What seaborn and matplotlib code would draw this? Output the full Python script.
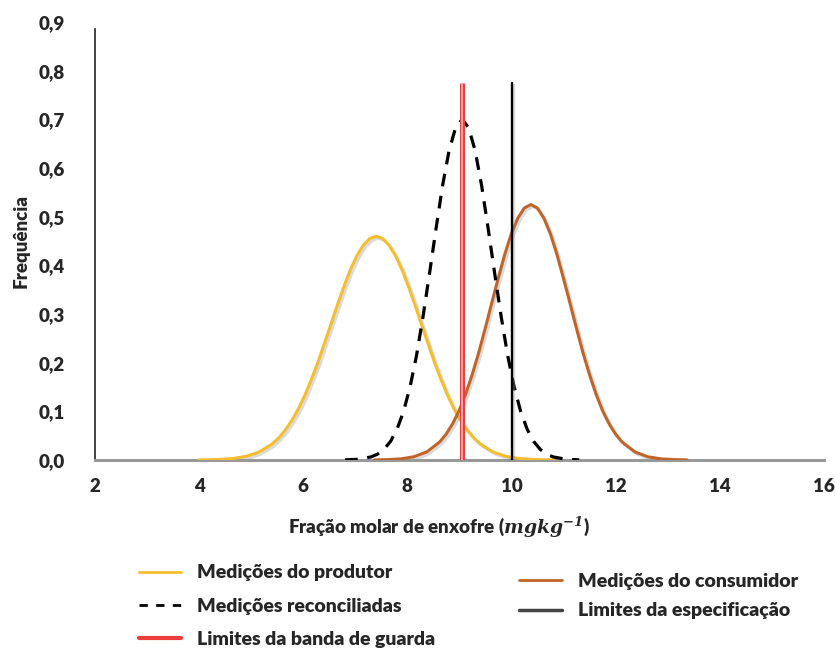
import matplotlib
matplotlib.use("Agg")
import matplotlib.pyplot as plt
import matplotlib.patheffects as pe
from matplotlib.lines import Line2D
import seaborn as sns
import pandas as pd

sns.set_style("white")
plt.rcParams['font.family'] = ['Lato', 'DejaVu Sans']
plt.rcParams['mathtext.fontset'] = 'dejavuserif'

# curves (coarse points + extra points in the bumps)
produtor_x = [4.0, 4.15, 4.4, 4.65, 4.9, 5.15, 5.4, 5.65, 5.9, 6.15, 6.4, 6.65, 6.9, 7.15, 7.4,
              7.65, 7.9, 8.15, 8.4, 8.65, 8.9, 9.15, 9.4, 9.65, 9.9, 10.15, 10.4, 10.65, 10.8]
produtor_y = [0.0002, 0.0004, 0.0012, 0.0031, 0.0074, 0.0162, 0.0328, 0.0609, 0.104, 0.164, 0.238,
              0.317, 0.390, 0.441, 0.460, 0.441, 0.390, 0.317, 0.238, 0.164, 0.104, 0.0609, 0.0328,
              0.0162, 0.0074, 0.0031, 0.0012, 0.0004, 0.0002]
produtor_x2 = [5.525, 5.775, 6.025, 6.275, 6.525, 6.775, 7.025, 7.275,
               7.525, 7.775, 8.025, 8.275, 8.525, 8.775, 9.025, 9.275]
produtor_y2 = [0.0451, 0.0804, 0.132, 0.199, 0.277, 0.355, 0.419, 0.455,
               0.455, 0.419, 0.355, 0.277, 0.199, 0.132, 0.0804, 0.0451]

reconc_x = [6.8, 7.05, 7.3, 7.55, 7.8, 8.05, 8.175, 8.3, 8.425, 8.55, 8.675, 8.8, 8.925, 9.05,
            9.175, 9.3, 9.425, 9.55, 9.675, 9.8, 9.925, 10.05, 10.3, 10.55, 10.8, 11.05, 11.3]
reconc_y = [0.0003, 0.0015, 0.0063, 0.0219, 0.0632, 0.150, 0.215, 0.295, 0.384, 0.476, 0.564, 0.636,
            0.683, 0.700, 0.683, 0.636, 0.564, 0.476, 0.384, 0.295, 0.215, 0.150, 0.0632, 0.0219,
            0.0063, 0.0015, 0.0003]
reconc_x2 = [7.425, 7.675, 7.925, 10.175, 10.425, 10.675]
reconc_y2 = [0.0120, 0.0382, 0.0998, 0.0998, 0.0382, 0.0120]

consum_x = [7.37, 7.62, 7.87, 8.12, 8.37, 8.62, 8.87, 9.12, 9.37, 9.62, 9.87, 10.12, 10.37,
            10.62, 10.87, 11.12, 11.37, 11.62, 11.87, 12.12, 12.37, 12.62, 12.87, 13.12, 13.37]
consum_y = [0.0002, 0.0008, 0.0023, 0.0066, 0.0165, 0.0371, 0.0749, 0.136, 0.221, 0.323, 0.423,
            0.497, 0.525, 0.497, 0.423, 0.323, 0.221, 0.136, 0.0749, 0.0371, 0.0165, 0.0066,
            0.0023, 0.0008, 0.0002]
consum_x2 = [8.745, 8.995, 9.245, 9.495, 9.745, 9.995, 10.245,
             10.495, 10.745, 10.995, 11.245, 11.495, 11.745, 11.995]
consum_y2 = [0.0534, 0.102, 0.176, 0.271, 0.374, 0.465, 0.518,
             0.518, 0.465, 0.374, 0.271, 0.176, 0.102, 0.0534]

banda_x = [9.05, 9.05]
banda_y = [0.0, 0.775]
espec_x = [10.0, 10.0]
espec_y = [0.0, 0.775]

x_ticks = [2, 4, 6, 8, 10, 12, 14, 16]
y_ticks = [0.0, 0.1, 0.2, 0.3, 0.4, 0.5, 0.6, 0.7, 0.8, 0.9]

c_prod = '#F4BE2F'
c_cons = '#C0652A'
c_red = '#EE3B3B'
FS = 14

fig = plt.figure(figsize=(8.35, 6.5), dpi=100)
ax = fig.add_axes([0.1138, 0.2923, 0.873, 0.6737])

shadow = [pe.SimpleLineShadow(offset=(1.5, -1.5), shadow_color='#999999', alpha=0.35), pe.Normal()]

df_p = pd.DataFrame({'x': produtor_x + produtor_x2, 'y': produtor_y + produtor_y2})
df_r = pd.DataFrame({'x': reconc_x + reconc_x2, 'y': reconc_y + reconc_y2})
df_c = pd.DataFrame({'x': consum_x + consum_x2, 'y': consum_y + consum_y2})

sns.lineplot(data=df_p, x='x', y='y', ax=ax, color=c_prod, lw=2.2, path_effects=shadow, zorder=3)
sns.lineplot(data=df_c, x='x', y='y', ax=ax, color=c_cons, lw=2.2, path_effects=shadow, zorder=3)
sns.lineplot(data=df_r, x='x', y='y', ax=ax, color='black', lw=2.3, zorder=4)
ax.lines[-1].set_dashes((4, 3))

ax.plot(banda_x, banda_y, color=c_red, lw=3.6, zorder=5, solid_capstyle='butt')
ax.plot(banda_x, banda_y, color='#FFB3B3', lw=1.3, zorder=6, solid_capstyle='butt')
ax.plot(espec_x, espec_y, color='black', lw=1.7, zorder=5, path_effects=shadow)

ax.set_xlim(2, 16)
ax.set_ylim(0, 0.9)
ax.set_xticks(x_ticks)
ax.set_yticks(y_ticks)
ax.set_yticklabels([f"{v:.1f}".replace('.', ',') for v in y_ticks], fontsize=13.5, fontweight='heavy')
ax.set_xticklabels([str(v) for v in x_ticks], fontsize=13.5, fontweight='heavy')
ax.tick_params(axis='both', length=0)
ax.tick_params(axis='x', pad=13)
ax.tick_params(axis='y', pad=22)

for s in ['top', 'right']:
    ax.spines[s].set_visible(False)
ax.spines['left'].set_color('#222222')
ax.spines['left'].set_linewidth(1.2)
ax.spines['left'].set_bounds(0, 0.885)
ax.spines['bottom'].set_color('#999999')
ax.spines['bottom'].set_linewidth(2.2)

ax.set_xlabel(r"Fração molar de enxofre ($\mathbfit{mgkg^{-1}}$)", fontsize=13.5, fontweight='heavy')
ax.xaxis.set_label_coords(0.472, -0.125)
ax.set_ylabel("Frequência", fontsize=13.5, fontweight='heavy', labelpad=6)

h_left = [Line2D([], [], color=c_prod, lw=2),
          Line2D([], [], color='black', lw=2, dashes=(3, 3)),
          Line2D([], [], color=c_red, lw=3)]
h_right = [Line2D([], [], color=c_cons, lw=2),
           Line2D([], [], color='#444444', lw=2.5)]
leg_kw = dict(frameon=False, handlelength=2.2, handletextpad=0.8,
              prop={'weight': 'heavy', 'size': FS})
fig.legend(h_left, ["Medições do produtor", "Medições reconciliadas", "Limites da banda de guarda"],
           loc='upper left', bbox_to_anchor=(0.145, 0.1585), labelspacing=0.84, **leg_kw)
fig.legend(h_right, ["Medições do consumidor", "Limites da especificação"],
           loc='upper left', bbox_to_anchor=(0.601, 0.146), labelspacing=0.66, **leg_kw)

fig.savefig("out.png", dpi=100)
